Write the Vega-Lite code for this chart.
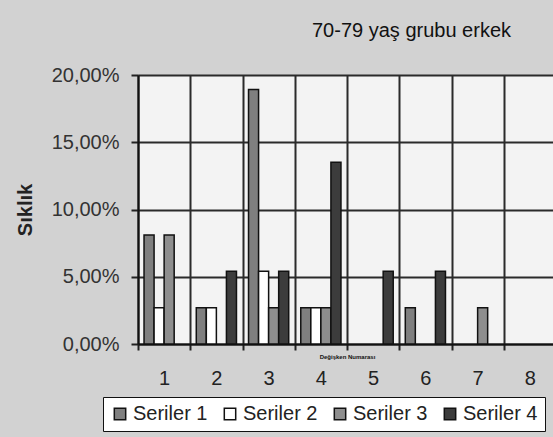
{
  "$schema": "https://vega.github.io/schema/vega-lite/v6.json",
  "autosize": {"type": "none"},
  "padding": {"left": 138, "top": 75, "right": 0, "bottom": 93},
  "width": 418,
  "height": 269,
  "background": "#d2d2d2",
  "title": {
    "text": "70-79 yaş grubu erkek",
    "fontSize": 20,
    "fontWeight": "normal",
    "font": "Liberation Sans",
    "color": "#111",
    "anchor": "start",
    "frame": "group",
    "dx": 174,
    "offset": 24
  },
  "data": {
    "values": [
      {"kategori": "1", "seri": "Seriler 1", "deger": 0.0811},
      {"kategori": "1", "seri": "Seriler 2", "deger": 0.0270},
      {"kategori": "1", "seri": "Seriler 3", "deger": 0.0811},
      {"kategori": "2", "seri": "Seriler 1", "deger": 0.0270},
      {"kategori": "2", "seri": "Seriler 2", "deger": 0.0270},
      {"kategori": "2", "seri": "Seriler 4", "deger": 0.0541},
      {"kategori": "3", "seri": "Seriler 1", "deger": 0.1892},
      {"kategori": "3", "seri": "Seriler 2", "deger": 0.0541},
      {"kategori": "3", "seri": "Seriler 3", "deger": 0.0270},
      {"kategori": "3", "seri": "Seriler 4", "deger": 0.0541},
      {"kategori": "4", "seri": "Seriler 1", "deger": 0.0270},
      {"kategori": "4", "seri": "Seriler 2", "deger": 0.0270},
      {"kategori": "4", "seri": "Seriler 3", "deger": 0.0270},
      {"kategori": "4", "seri": "Seriler 4", "deger": 0.1351},
      {"kategori": "5", "seri": "Seriler 4", "deger": 0.0541},
      {"kategori": "6", "seri": "Seriler 1", "deger": 0.0270},
      {"kategori": "6", "seri": "Seriler 4", "deger": 0.0541},
      {"kategori": "7", "seri": "Seriler 3", "deger": 0.0270}
    ]
  },
  "mark": {"type": "bar", "stroke": "#111", "strokeWidth": 1.5},
  "encoding": {
    "x": {
      "field": "kategori",
      "type": "ordinal",
      "scale": {"domain": ["1", "2", "3", "4", "5", "6", "7", "8"], "paddingInner": 0, "paddingOuter": 0},
      "axis": {
        "title": "Değişken Numarası",
        "titleFontSize": 6,
        "titleFontWeight": "bold",
        "titleColor": "#111",
        "titleBaseline": "middle",
        "titleY": 12,
        "labelAngle": 0,
        "labelFontSize": 20,
        "labelColor": "#222",
        "labelPadding": 18,
        "tickBand": "extent",
        "tickSize": 6,
        "tickWidth": 2,
        "tickColor": "#222",
        "grid": true,
        "gridColor": "#2a2a2a",
        "gridWidth": 2,
        "gridOpacity": 1,
        "domainColor": "#111",
        "domainWidth": 2
      }
    },
    "xOffset": {
      "field": "seri",
      "type": "nominal",
      "scale": {"domain": ["Seriler 1", "Seriler 2", "Seriler 3", "Seriler 4"], "paddingInner": 0, "paddingOuter": 0.6}
    },
    "y": {
      "field": "deger",
      "type": "quantitative",
      "scale": {"domain": [0, 0.2], "nice": false},
      "axis": {
        "title": "Sıklık",
        "titleFontSize": 20,
        "titleFontWeight": "bold",
        "titleColor": "#222",
        "titlePadding": 16,
        "format": ".2%",
        "values": [0, 0.05, 0.1, 0.15, 0.2],
        "labelFontSize": 20,
        "labelColor": "#333",
        "labelPadding": 12,
        "tickSize": 7,
        "tickWidth": 2,
        "tickColor": "#222",
        "grid": true,
        "gridColor": "#2a2a2a",
        "gridWidth": 2,
        "gridOpacity": 1,
        "domainColor": "#111",
        "domainWidth": 2
      }
    },
    "fill": {
      "field": "seri",
      "type": "nominal",
      "scale": {
        "domain": ["Seriler 1", "Seriler 2", "Seriler 3", "Seriler 4"],
        "range": ["#7f7f7f", "#ffffff", "#8e8e8e", "#3c3c3c"]
      },
      "legend": {
        "title": null,
        "orient": "none",
        "legendX": -35,
        "legendY": 322,
        "direction": "horizontal",
        "fillColor": "#ffffff",
        "strokeColor": "#111",
        "padding": 7,
        "symbolType": "square",
        "symbolSize": 130,
        "symbolStrokeColor": "#111",
        "symbolStrokeWidth": 1.5,
        "labelFontSize": 20,
        "labelColor": "#222",
        "labelOffset": 3,
        "columnPadding": 12
      }
    }
  },
  "config": {
    "font": "Liberation Sans",
    "locale": {"number": {"decimal": ",", "thousands": ".", "grouping": [3], "currency": ["", " TL"]}},
    "view": {"fill": "#f3f3f3", "stroke": null}
  }
}
